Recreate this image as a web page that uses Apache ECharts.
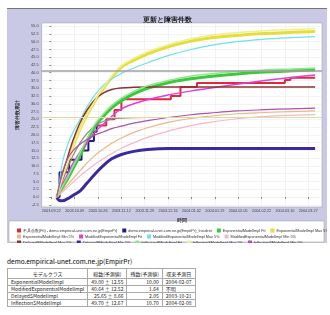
<!DOCTYPE html>
<html>
<head>
<meta charset="utf-8">
<script src="https://cdn.jsdelivr.net/npm/echarts@6/dist/echarts.min.js"></script>
<style>
  body { margin: 0; background: #fff; font-family: "Noto Sans CJK JP", "DejaVu Sans", sans-serif; }
  #chart { position: absolute; left: 7px; top: 8px; width: 320px; height: 234px; background: #c9c9e6; border-top: 1px solid #777; }
  #site { position: absolute; left: 7px; top: 256px; font-size: 6.5px; color: #000; }
  #tbl { position: absolute; left: 7px; top: 268px; border-collapse: collapse; font-size: 5px; color: #222; }
  #tbl td, #tbl th { border: 1px solid #aaa; padding: 0 3px; height: 6px; line-height: 6px; white-space: nowrap; font-weight: normal; }
  #tbl th { height: 9px; }
</style>
</head>
<body>
<div id="chart"></div>
<div id="site"></div>
<table id="tbl"></table>
<script>
// 日付 (2003.09.22 からの日数)
const xTickDays = [0, 17, 34, 51, 68, 85, 102, 119, 136, 153, 170, 187]
const xTickLabels = ['2003.09.22', '2003.10.09', '2003.10.26', '2003.11.12', '2003.11.29', '2003.12.16',
  '2004.01.02', '2004.01.19', '2004.02.05', '2004.02.22', '2004.03.10', '2004.03.27']
const yTicks = [-2.5, 0, 2.5, 5, 7.5, 10, 12.5, 15, 17.5, 20, 22.5, 25, 27.5, 30, 32.5, 35, 37.5, 40, 42.5, 45, 47.5, 50, 52.5, 55]

// モデル曲線の読み取り日
const days = [4, 6, 8, 12, 16, 21, 26, 32, 38, 44, 51, 60, 70, 85, 100, 115, 135, 155, 175, 192]

const expFit = [0, 1.5, 3, 6, 9.3, 13.5, 18, 22.9, 26, 28.7, 31, 33.2, 35, 36.8, 38, 38.8, 39.6, 40.2, 40.6, 40.9]
const expMax = [0, 3, 6, 11.5, 16.5, 22, 26.5, 31, 35, 38.5, 41.8, 44, 46, 48.3, 50, 51.2, 52, 52.6, 53, 53.3]
const expMin = [0, 1, 2, 4, 6, 8.5, 11, 13.5, 15.5, 17.3, 19, 20.8, 22.3, 24, 25.2, 26, 26.8, 27.2, 27.5, 27.7]
const modFit = [0, 2, 4, 7.5, 11, 14.5, 17.5, 21, 23.5, 26, 28.4, 30, 31.3, 32.8, 34, 35, 36.3, 37.5, 38.5, 39.3]
const modMax = [0, 5, 11, 17, 21, 25, 29, 33, 36, 38, 39.8, 41.5, 43.2, 45.5, 47.3, 48.7, 50, 50.8, 51.3, 51.6]
const modMin = [0, 0.8, 1.6, 3.2, 4.8, 6.8, 8.6, 10.6, 12.4, 14, 15.7, 17.5, 19.2, 21.2, 22.8, 24, 25.2, 25.9, 26.3, 26.5]
const delFit = [0, 2.5, 5, 9.5, 13.5, 17.5, 20.5, 23, 24.4, 25.1, 25.4, 25.55, 25.6, 25.6, 25.6, 25.6, 25.6, 25.6, 25.6, 25.6]
const delMax = [0, 3.5, 7, 13, 18.5, 24, 28, 31.5, 33.5, 34.6, 35.1, 35.3, 35.4, 35.4, 35.4, 35.4, 35.4, 35.4, 35.4, 35.4]
const delMin = [-0.2, -1.1, -1.2, -0.5, 0.6, 2, 4.5, 7.5, 10.2, 12.3, 13.7, 14.7, 15.3, 15.6, 15.6, 15.6, 15.6, 15.6, 15.6, 15.6]
const infFit = [0, 1.7, 3.3, 6.5, 10, 14.3, 18.8, 23.6, 26.8, 29.5, 31.8, 34, 35.8, 37.5, 38.8, 39.6, 40.4, 40.9, 41.2, 41.5]
const infMax = [0, 3, 6, 11.5, 16.5, 22, 26.6, 31.2, 35.3, 38.9, 42.3, 44.6, 46.7, 49, 50.8, 52, 52.9, 53.5, 53.9, 54.2]
const infMin = [0, 4, 8, 12.5, 15, 17, 18.5, 20, 21, 22, 22.8, 23.8, 24.6, 25.6, 26.4, 27, 27.7, 28.1, 28.4, 28.6]

// 実測 (累積不具合数)
const obsEarly = [[4, 0], [6, 8], [13, 12], [22, 15], [27, 18], [31, 21], [33, 23]]
const obsLate = [[33, 23], [40, 25], [46, 28], [51, 31.5], [87, 32.5], [94, 35.4], [106, 36.7], [170, 37.7], [174, 38.4], [192, 38.4]]

// 推定総数
const estimateLines = [40.64, 25.65]

// 表
const tableHead = ['モデルクラス', '総数(予測値)', '残数(予測値)', '収束予測日']
const modelNames = ['ExponentialModelImpl', 'ModifiedExponentialModelImpl', 'DelayedSModelImpl', 'InflectionSModelImpl']
const modelTotals = ['49.00 ± 12.55', '40.64 ± 12.52', '25.65 ± 8.66', '49.70 ± 12.67']
const modelRemain = ['10.00', '1.64', '2.05', '10.70']
const modelDates = ['2004-02-07', '不明', '2003-10-21', '2004-02-08']

const siteName = 'demo.empirical-unet.com.ne.jp(EmpirPr)'

document.getElementById('site').textContent = siteName
let html = '<tr>' + tableHead.map(h => '<th>' + h + '</th>').join('') + '</tr>'
modelNames.forEach((m, i) => {
  html += '<tr><td>' + m + '</td><td style="text-align:right">' + modelTotals[i] + '</td><td style="text-align:right">' +
    modelRemain[i] + '</td><td>' + modelDates[i] + '</td></tr>'
})
document.getElementById('tbl').innerHTML = html

const pairs = vals => days.map((d, i) => [d, vals[i]])

const curves = [
  { name: 'ExponentialModelImpl Fit', data: expFit, color: '#3cc83c', w: 3 },
  { name: 'ExponentialModelImpl Max 5%', data: expMax, color: '#e6dc3c', w: 3 },
  { name: 'ExponentialModelImpl Min 5%', data: expMin, color: '#e8b888', w: 1.2 },
  { name: 'ModifiedExponentialModelImpl Fit', data: modFit, color: '#e040d8', w: 1.5 },
  { name: 'ModifiedExponentialModelImpl Max 5%', data: modMax, color: '#70e0ea', w: 1.2 },
  { name: 'ModifiedExponentialModelImpl Min 5%', data: modMin, color: '#f4b8c8', w: 1.2 },
  { name: 'DelayedSModelImpl Fit', data: delFit, color: '#8a8a80', w: 1.2 },
  { name: 'DelayedSModelImpl Max 5%', data: delMax, color: '#8c3030', w: 1.5 },
  { name: 'DelayedSModelImpl Min 5%', data: delMin, color: '#3a2aa0', w: 3 },
  { name: 'InflectionSModelImpl Fit', data: infFit, color: '#8ee88a', w: 1.5 },
  { name: 'InflectionSModelImpl Max 5%', data: infMax, color: '#eef08a', w: 1.5 },
  { name: 'InflectionSModelImpl Min 5%', data: infMin, color: '#b050a8', w: 1.2 },
]

const series = curves.map(c => ({
  name: c.name,
  type: 'line',
  data: pairs(c.data),
  smooth: 0.4,
  showSymbol: false,
  color: c.color,
  lineStyle: { width: c.w, color: c.color },
}))

series.unshift({
  name: 'demo.empirical-unet.com.ne.jp(EmpirPr)_Incident',
  type: 'line',
  step: 'end',
  data: obsEarly,
  showSymbol: false,
  color: '#1c1c8a',
  lineStyle: { width: 2 },
})
series.unshift({
  name: '不具合数(Fit) - demo.empirical-unet.com.ne.jp(EmpirPr)',
  type: 'line',
  step: 'end',
  data: obsLate,
  showSymbol: false,
  color: '#e0283c',
  lineStyle: { width: 2 },
  markLine: {
    silent: true,
    symbol: 'none',
    label: { show: false },
    data: estimateLines.map((v, i) => ({
      yAxis: v,
      lineStyle: { color: i === 0 ? '#a0a0a0' : '#e0d8a0', width: i === 0 ? 1.5 : 1, type: 'solid' }
    }))
  }
})

const names = series.map(s => s.name)
const legendRow = (list, top) => ({
  data: list,
  left: 5,
  top: top,
  width: 318,
  icon: 'rect',
  itemWidth: 4,
  itemHeight: 4,
  itemGap: 5,
  textStyle: { fontSize: 3.8, color: '#333', padding: [0, 0, 0, -3] },
  selectedMode: false,
})

const myChart = echarts.init(document.getElementById('chart'))
myChart.setOption({
  animation: false,
  title: {
    text: '更新と障害件数',
    left: 'center',
    top: 3,
    textStyle: { fontSize: 6.5, fontWeight: 'bold', color: '#222' },
  },
  graphic: [{
    type: 'rect',
    shape: { x: 2, y: 212, width: 315, height: 21 },
    style: { fill: '#fff', stroke: '#999', lineWidth: 0.5 },
    z: 0,
  }],
  legend: [
    legendRow(names.slice(0, 4), 214.5),
    legendRow(names.slice(4, 9), 220.5),
    legendRow(names.slice(9), 226.5),
  ],
  grid: {
    left: 20, top: 14, right: 5, bottom: 36,
    show: true, backgroundColor: '#fff', borderColor: '#999', borderWidth: 0.5,
  },
  xAxis: {
    type: 'value',
    min: -7,
    max: 197,
    name: '時間',
    nameLocation: 'middle',
    nameGap: 7,
    nameTextStyle: { fontSize: 4.5, color: '#333', fontWeight: 'bold' },
    axisLine: { show: false },
    axisTick: { show: true, customValues: xTickDays, length: 2, lineStyle: { color: '#888' } },
    axisLabel: {
      customValues: xTickDays,
      fontSize: 3.8,
      color: '#444',
      margin: 2,
      formatter: v => xTickLabels[xTickDays.indexOf(v)],
    },
    splitLine: { show: true, lineStyle: { color: '#e6e6e6', width: 0.5 } },
  },
  yAxis: {
    type: 'value',
    min: -3.2,
    max: 56,
    name: '障害件数累計',
    nameLocation: 'middle',
    nameRotate: 90,
    nameGap: 13,
    nameTextStyle: { fontSize: 4.5, color: '#333', fontWeight: 'bold' },
    axisLine: { show: false },
    axisTick: { show: true, customValues: yTicks, length: 2, lineStyle: { color: '#888' } },
    axisLabel: {
      customValues: yTicks,
      fontSize: 4,
      color: '#444',
      margin: 3,
      formatter: v => v.toFixed(1),
    },
    splitLine: { show: true, lineStyle: { color: '#e6e6e6', width: 0.5 } },
  },
  series: series,
})
</script>
</body>
</html>
